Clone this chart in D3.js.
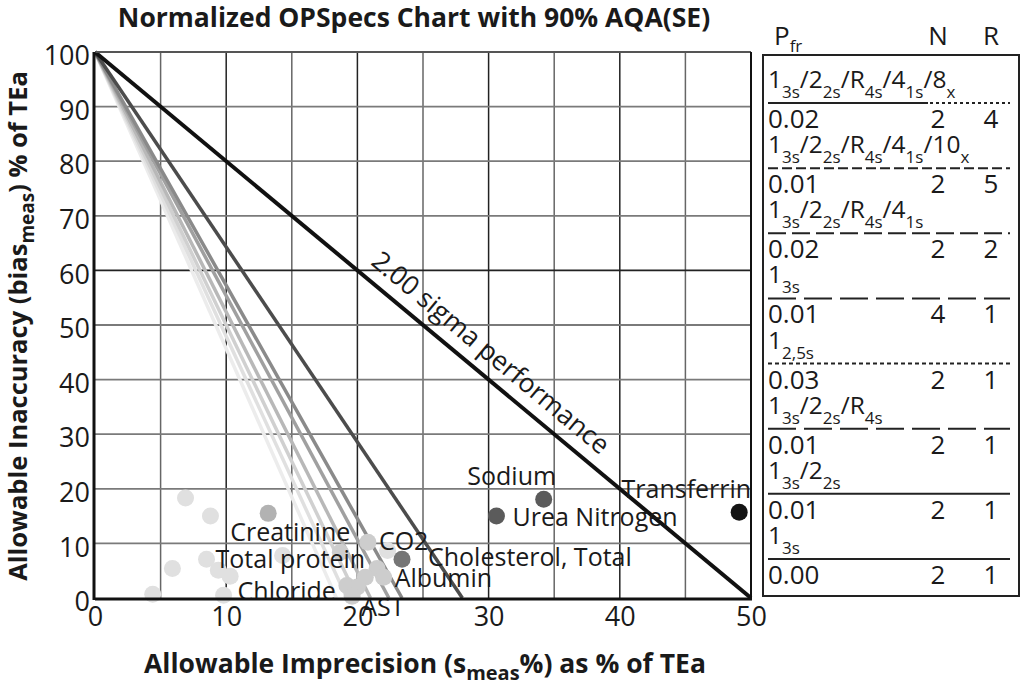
<!DOCTYPE html>
<html>
<head>
<meta charset="utf-8">
<script src="https://cdn.jsdelivr.net/npm/d3@7"></script>
<style>
    body { margin: 0; background: #fff; }
    #chart-area { width: 1022px; height: 689px; }
    text { font-family: "Open Sans", "Noto Sans", sans-serif; fill: #1a1a1a; }
    .bold { font-family: "Open Sans", sans-serif; font-weight: bold; }
</style>
</head>
<body>
<div id="chart-area"></div>
<script>

// ---- data ----
const xTicks = [0, 10, 20, 30, 40, 50];
const yTicks = [0, 10, 20, 30, 40, 50, 60, 70, 80, 90, 100];

// x-intercepts (s_meas %) of the operating lines, all start at (0, 100)
const sigmaLine = 50;
const opIntercepts = [28, 23.4, 22.4, 21, 20, 19.2, 18.4];

// analytes: imprecision (x), inaccuracy (y), label, shade level (0 = darkest)
const pointX = [6.9, 8.8, 13.2, 5.9, 8.5, 9.4, 10.3, 4.4, 9.8, 14.3, 18.7, 20.8, 22.3, 23.4, 21.5, 20.6, 19.2, 20.0, 22.0, 19.6, 34.2, 30.6, 49.1];
const pointY = [18.3, 15.0, 15.5, 5.4, 7.1, 5.1, 4.0, 0.7, 0.5, 7.8, 8.4, 10.2, 8.7, 7.1, 5.4, 3.8, 2.3, 2.0, 3.8, 0.3, 18.1, 15.0, 15.7];
const pointLabel = ["", "", "Creatinine", "", "Total protein", "", "", "", "Chloride", "", "", "CO2", "", "Cholesterol, Total", "", "", "", "", "Albumin", "AST", "Sodium", "Urea Nitrogen", "Transferrin"];
const pointLevel = [5, 5, 3, 5, 5, 5, 5, 5, 5, 5, 4, 4, 5, 2, 4, 4, 4, 4, 4, 4, 1, 1, 0];

// legend: QC rules, Pfr, N, R
const ruleNames = ["1:3s/2:2s/R:4s/4:1s/8:x", "1:3s/2:2s/R:4s/4:1s/10:x", "1:3s/2:2s/R:4s/4:1s", "1:3s", "1:2,5s", "1:3s/2:2s/R:4s", "1:3s/2:2s", "1:3s"];
const rulePfr = ["0.02", "0.01", "0.02", "0.01", "0.03", "0.01", "0.01", "0.00"];
const ruleN = [2, 2, 2, 4, 2, 2, 2, 2];
const ruleR = [4, 5, 2, 1, 1, 1, 1, 1];


class OpspecsChart {

    constructor(parentElement) {
        this.parentElement = parentElement;
        this.initVis();
    }

    initVis() {
        let vis = this;

        vis.margin = {top: 52, right: 271, bottom: 91, left: 95};
        vis.width = 1022 - vis.margin.left - vis.margin.right;
        vis.height = 689 - vis.margin.top - vis.margin.bottom;

        vis.root = d3.select("#" + vis.parentElement).append("svg")
            .attr("width", 1022)
            .attr("height", 689);

        vis.svg = vis.root.append("g")
            .attr("transform", `translate(${vis.margin.left}, ${vis.margin.top})`);

        vis.x = d3.scaleLinear().domain([0, 50]).range([0, vis.width]);
        vis.y = d3.scaleLinear().domain([0, 100]).range([vis.height, 0]);

        vis.shade = d3.scaleOrdinal()
            .domain([0, 1, 2, 3, 4, 5])
            .range(["#141414", "#5b5b5b", "#767676", "#b2b2b2", "#cdcdcd", "#e0e0e0"]);

        vis.lineShade = ["#4c4c4c", "#8a8a8a", "#a0a0a0", "#b8b8b8", "#d0d0d0", "#e0e0e0", "#ececec"];

        vis.drawGrid();
        vis.drawLines();
        vis.drawPoints();
        vis.drawAxes();
        vis.drawLegend();
    }

    drawGrid() {
        let vis = this;

        // vertical grid every 5
        vis.svg.selectAll(".vgrid")
            .data(d3.range(5, 50, 5))
            .join("line")
            .attr("class", "vgrid")
            .attr("x1", d => vis.x(d)).attr("x2", d => vis.x(d))
            .attr("y1", 0).attr("y2", vis.height)
            .attr("stroke", d => d % 10 === 0 ? "#222" : "#666")
            .attr("stroke-width", 1.5);

        // horizontal grid every 10
        vis.svg.selectAll(".hgrid")
            .data(yTicks.filter(d => d > 0 && d < 100))
            .join("line")
            .attr("class", "hgrid")
            .attr("x1", 0).attr("x2", vis.width)
            .attr("y1", d => vis.y(d)).attr("y2", d => vis.y(d))
            .attr("stroke", d => d === 60 ? "#222" : "#7a7a7a")
            .attr("stroke-width", 1.8);
    }

    drawLines() {
        let vis = this;

        // operating lines, lightest drawn first
        let ops = opIntercepts.map((d, i) => ({xi: d, color: vis.lineShade[i]})).reverse();

        vis.svg.selectAll(".opline")
            .data(ops)
            .join("line")
            .attr("class", "opline")
            .attr("x1", vis.x(0)).attr("y1", vis.y(100))
            .attr("x2", d => vis.x(d.xi)).attr("y2", vis.y(0))
            .attr("stroke", d => d.color)
            .attr("stroke-width", 3.5);

        vis.svg.append("line")
            .attr("x1", vis.x(0)).attr("y1", vis.y(100))
            .attr("x2", vis.x(sigmaLine)).attr("y2", vis.y(0))
            .attr("stroke", "#111")
            .attr("stroke-width", 4);

        // label along the sigma line
        let p = [vis.x(20.3), vis.y(100 - 100 * 20.3 / sigmaLine)];
        let ang = Math.atan2(vis.y(0) - vis.y(100), vis.x(sigmaLine) - vis.x(0));
        let off = 13;
        vis.svg.append("text")
            .attr("transform", `translate(${p[0] + off * Math.sin(ang)}, ${p[1] - off * Math.cos(ang)}) rotate(${ang * 180 / Math.PI})`)
            .style("font-size", "26.5px")
            .text("2.00 sigma performance");
    }

    drawPoints() {
        let vis = this;

        let pts = pointX.map((d, i) => ({x: d, y: pointY[i], label: pointLabel[i], level: pointLevel[i]}));
        // lighter dots underneath
        pts.sort((a, b) => b.level - a.level);

        vis.svg.selectAll(".dot")
            .data(pts)
            .join("circle")
            .attr("class", "dot")
            .attr("cx", d => vis.x(d.x))
            .attr("cy", d => vis.y(d.y))
            .attr("r", 8.5)
            .attr("fill", d => vis.shade(d.level));

        // label placement relative to each dot
        let place = {
            "Creatinine": [-38, 28, "start"],
            "Total protein": [9, 9, "start"],
            "Chloride": [14, 5, "start"],
            "CO2": [11, 8, "start"],
            "Cholesterol, Total": [26, 7, "start"],
            "Albumin": [11, 10, "start"],
            "AST": [9, 20, "start"],
            "Sodium": [-32, -14, "middle"],
            "Urea Nitrogen": [16, 10, "start"],
            "Transferrin": [12, -14, "end"]
        };

        vis.svg.selectAll(".dot-label")
            .data(pts.filter(d => d.label !== ""))
            .join("text")
            .attr("class", "dot-label")
            .attr("x", d => vis.x(d.x) + place[d.label][0])
            .attr("y", d => vis.y(d.y) + place[d.label][1])
            .attr("text-anchor", d => place[d.label][2])
            .style("font-size", "25px")
            .text(d => d.label);
    }

    drawAxes() {
        let vis = this;

        // frame
        vis.svg.append("line").attr("x1", 0).attr("x2", vis.width).attr("y1", 0).attr("y2", 0)
            .attr("stroke", "#555").attr("stroke-width", 2);
        vis.svg.append("line").attr("x1", vis.width).attr("x2", vis.width).attr("y1", 0).attr("y2", vis.height)
            .attr("stroke", "#111").attr("stroke-width", 2);
        vis.svg.append("line").attr("x1", 0).attr("x2", vis.width + 1).attr("y1", vis.height + 1).attr("y2", vis.height + 1)
            .attr("stroke", "#111").attr("stroke-width", 3);
        vis.svg.append("line").attr("x1", -1).attr("x2", -1).attr("y1", 0).attr("y2", vis.height + 2)
            .attr("stroke", "#111").attr("stroke-width", 3);

        let xAxis = vis.svg.append("g")
            .attr("transform", `translate(0, ${vis.height})`)
            .call(d3.axisBottom(vis.x).tickValues(xTicks).tickSize(0).tickPadding(9));
        let yAxis = vis.svg.append("g")
            .call(d3.axisLeft(vis.y).tickValues(yTicks).tickSize(0).tickPadding(5));

        [xAxis, yAxis].forEach(a => {
            a.select(".domain").remove();
            a.selectAll("text")
                .style("font-family", "'Open Sans', sans-serif")
                .style("font-size", "27px")
                .attr("fill", "#1a1a1a");
        });
        yAxis.selectAll("text").attr("dy", "0.62em").attr("y", -4);

        // axis titles with subscripts
        let xt = vis.root.append("text")
            .attr("class", "bold")
            .attr("x", vis.margin.left + vis.width / 2 + 2)
            .attr("y", 673)
            .attr("text-anchor", "middle")
            .style("font-size", "26.5px");
        xt.append("tspan").text("Allowable Imprecision (s");
        xt.append("tspan").attr("dy", 7).style("font-size", "20px").text("meas");
        xt.append("tspan").attr("dy", -7).text("%) as % of TEa");

        let yt = vis.root.append("text")
            .attr("class", "bold")
            .attr("transform", `translate(27, ${vis.margin.top + vis.height / 2 + 1}) rotate(-90)`)
            .attr("text-anchor", "middle")
            .style("font-size", "25.5px");
        yt.append("tspan").text("Allowable Inaccuracy (bias");
        yt.append("tspan").attr("dy", 7).style("font-size", "19px").text("meas");
        yt.append("tspan").attr("dy", -7).text(") % of TEa");

        vis.root.append("text")
            .attr("class", "bold")
            .attr("x", 414)
            .attr("y", 27)
            .attr("text-anchor", "middle")
            .style("font-size", "26.5px")
            .text("Normalized OPSpecs Chart with 90% AQA(SE)");
    }

    drawLegend() {
        let vis = this;

        let lg = vis.root.append("g");
        let left = 768, right = 1010, colN = 938, colR = 991;

        lg.append("rect")
            .attr("x", 763).attr("y", 55)
            .attr("width", 256).attr("height", 541)
            .attr("fill", "none").attr("stroke", "#222").attr("stroke-width", 2);

        // header
        let ph = lg.append("text").attr("x", left + 6).attr("y", 45).style("font-size", "26px");
        ph.append("tspan").text("P");
        ph.append("tspan").attr("dy", 7).style("font-size", "17px").text("fr");
        lg.append("text").attr("x", colN).attr("y", 45).attr("text-anchor", "middle").style("font-size", "26px").text("N");
        lg.append("text").attr("x", colR).attr("y", 45).attr("text-anchor", "middle").style("font-size", "26px").text("R");

        let dashes = ["3,3", "10,4", "18,6", "28,8", "4,3", "28,8", null, null];
        let rows = ruleNames.map((d, i) => ({
            rule: d, pfr: rulePfr[i], n: ruleN[i], r: ruleR[i], dash: dashes[i]
        }));

        let rowY = d3.scaleLinear().domain([0, 7]).range([103, 559]);

        let row = lg.selectAll(".legend-row")
            .data(rows)
            .join("g")
            .attr("class", "legend-row")
            .attr("transform", (d, i) => `translate(0, ${rowY(i)})`);

        // rule name with subscripts
        row.append("text")
            .attr("x", left)
            .attr("y", -15)
            .style("font-size", "24.5px")
            .each(function (d) {
                let t = d3.select(this);
                d.rule.split("/").forEach((part, k) => {
                    let [main, sub] = part.split(":");
                    t.append("tspan").attr("dy", k > 0 ? -10 : 0).text((k > 0 ? "/" : "") + main);
                    t.append("tspan").attr("dy", 10).style("font-size", "17px").text(sub);
                });
            });

        row.append("line")
            .attr("x1", left).attr("x2", right)
            .attr("y1", 0).attr("y2", 0)
            .attr("stroke", "#222").attr("stroke-width", 2)
            .attr("stroke-dasharray", d => d.dash);

        // first rule: solid under the text, dotted after
        row.filter((d, i) => i === 0).append("line")
            .attr("x1", left).attr("x2", 928)
            .attr("y1", 0).attr("y2", 0)
            .attr("stroke", "#222").attr("stroke-width", 2);

        row.append("text").attr("x", left).attr("y", 25).style("font-size", "26px").text(d => d.pfr);
        row.append("text").attr("x", colN).attr("y", 25).attr("text-anchor", "middle").style("font-size", "26px").text(d => d.n);
        row.append("text").attr("x", colR).attr("y", 25).attr("text-anchor", "middle").style("font-size", "26px").text(d => d.r);
    }
}

new OpspecsChart("chart-area");

</script>
</body>
</html>
